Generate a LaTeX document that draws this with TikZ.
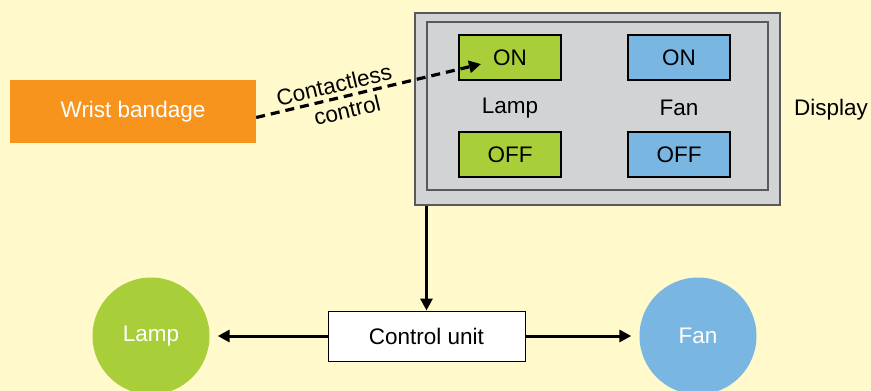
\documentclass[tikz,border=0pt]{standalone}
\usepackage{fontspec}
\setmainfont{Liberation Sans}
\usetikzlibrary{arrows.meta,positioning,calc}
\definecolor{paper}{HTML}{FFF9CC}
\definecolor{bandorange}{HTML}{F7941E}
\definecolor{lampgreen}{HTML}{A8CE3A}
\definecolor{fanblue}{HTML}{7AB6E2}
\definecolor{panelgray}{HTML}{D1D3D4}
\definecolor{edgegray}{HTML}{58595B}
\tikzset{
  txt/.style     = {font=\fontsize{22.5}{26}\selectfont, inner sep=3pt},
  bandbox/.style = {rectangle, fill=bandorange, text=white, minimum width=246pt, minimum height=63pt, txt},
  panel/.style   = {rectangle, draw=edgegray, line width=1.4pt, fill=panelgray},
  switch/.style  = {rectangle, draw=black, line width=1.6pt, minimum width=102pt, minimum height=45pt, txt},
  unitbox/.style = {rectangle, draw=black, line width=1pt, fill=white, minimum width=197pt, minimum height=50pt, txt},
  device/.style  = {circle, minimum size=117pt, text=white, txt},
  flow/.style    = {-{Triangle[length=12pt,width=12pt]}, line width=3pt, draw=black},
  dashflow/.style= {-{Triangle[length=12pt,width=12pt]}, line width=3.2pt, dash pattern=on 9pt off 6pt, draw=black}
}
\begin{document}
\begin{tikzpicture}[x=1pt, y=-1pt]
    \useasboundingbox (0,0) rectangle (871,391);
    \fill[paper] (0,0) rectangle (871,391);
    \node[bandbox] (wrist) at (133,111.5) {Wrist bandage};
    \node[panel, minimum width=365pt, minimum height=192pt] (disp) at (597.5,109) {};
    \node[panel, minimum width=341pt, minimum height=168pt] (screen) at (597.5,106) {};
    \node[switch, fill=lampgreen] (lampon)  at (510,57.5)  {ON};
    \node[switch, fill=lampgreen] (lampoff) at (510,154.5) {OFF};
    \node[switch, fill=fanblue]   (fanon)   at (679,57.5)  {ON};
    \node[switch, fill=fanblue]   (fanoff)  at (679,154.5) {OFF};
    \node[txt] (lamplbl) at (510,108) {Lamp};
    \node[txt] (fanlbl)  at (679,108) {Fan};
    \node[txt, anchor=west] (displbl) at (791,110) {Display};
    \node[unitbox] (ctrl) at (426.5,336) {Control unit};
    \node[device, fill=lampgreen] (lamp) at (151,336) {Lamp};
    \node[device, fill=fanblue]   (fan)  at (698,336) {Fan};
    \coordinate (tip) at (481,64);
    \draw[dashflow] ([yshift=-6pt]wrist.east) -- (tip)
      node[txt, sloped, above=1pt, pos=0.36] (cl1) {Contactless}
      node[txt, sloped, below=1pt, pos=0.39] (cl2) {control};
    \draw[flow] (ctrl.north |- disp.south) -- (ctrl.north);
    \draw[flow, shorten >=8pt] (ctrl.west) -- (lamp.east);
    \draw[flow, shorten >=8pt] (ctrl.east) -- (fan.west);
  \end{tikzpicture}
\end{document}
